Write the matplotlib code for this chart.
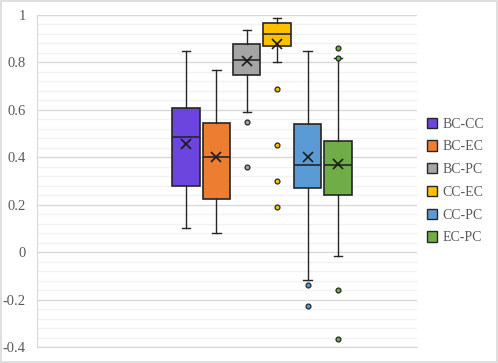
import matplotlib.pyplot as plt
from matplotlib.patches import Rectangle
import numpy as np

labels = ['BC-CC', 'BC-EC', 'BC-PC', 'CC-EC', 'CC-PC', 'EC-PC']
colors = ['#6B45DD', '#ED7D31', '#A5A5A5', '#FFC000', '#5B9BD5', '#70AD47']
whislo = [0.10, 0.081, 0.589, 0.80, -0.117, -0.018]
q1 = [0.28, 0.224, 0.749, 0.869, 0.27, 0.242]
med = [0.486, 0.402, 0.809, 0.919, 0.366, 0.366]
mean = [0.457, 0.40, 0.805, 0.879, 0.401, 0.371]
q3 = [0.607, 0.544, 0.879, 0.968, 0.54, 0.47]
whishi = [0.85, 0.768, 0.938, 0.989, 0.85, 0.819]
fliers = [[], [], [0.55, 0.361], [0.69, 0.451, 0.301, 0.19],
          [-0.138, -0.228], [0.86, 0.82, -0.158, -0.367]]

plt.rcParams['font.family'] = ['Liberation Serif', 'DejaVu Serif']
fig = plt.figure(figsize=(4.98, 3.63), dpi=100)
fig.patches.append(Rectangle((0.002, 0.003), 0.996, 0.994, transform=fig.transFigure,
                             fill=False, edgecolor='#D9D9D9', lw=1.2))
ax = fig.add_axes([37/498, 1-347/363, (417-37)/498, (347-15)/363])

stats = []
for i in range(len(labels)):
    stats.append(dict(label=labels[i], whislo=whislo[i], q1=q1[i], med=med[i],
                      mean=mean[i], q3=q3[i], whishi=whishi[i], fliers=fliers[i]))

for i, s in enumerate(stats):
    c = colors[i]
    ax.bxp([s], positions=[i], widths=0.9, patch_artist=True, showmeans=True,
           boxprops=dict(facecolor=c, edgecolor='#262626', lw=1.2),
           medianprops=dict(color='#262626', lw=1.2),
           whiskerprops=dict(color='#262626', lw=1),
           capprops=dict(color='#262626', lw=1),
           capwidths=0.28,
           meanprops=dict(marker='x', markeredgecolor='#1a1a1a', markersize=7, mew=1.2),
           flierprops=dict(marker='o', markerfacecolor=c, markeredgecolor='#262626',
                           markersize=3.5, mew=0.9))

ax.set_xlim(-4.9, 7.6)
ax.set_ylim(-0.4, 1.0)
ax.set_yticks(np.arange(-0.4, 1.01, 0.2))
ax.set_yticklabels(['-0.4', '-0.2', '0', '0.2', '0.4', '0.6', '0.8', '1'])
ax.set_yticks(np.arange(-0.4, 1.0, 0.04), minor=True)
ax.grid(axis='y', which='major', color='#D9D9D9', lw=1)
ax.grid(axis='y', which='minor', color='#F2F2F2', lw=1)
ax.set_axisbelow(True)
ax.set_xticks([])
ax.tick_params(axis='y', which='both', length=0, labelsize=10.5, labelcolor='#595959', pad=8)
for sp in ['top', 'right']:
    ax.spines[sp].set_visible(False)
ax.spines['left'].set_color('#D9D9D9')
ax.spines['bottom'].set_color('#D9D9D9')

handles = [Rectangle((0, 0), 1, 1, facecolor=colors[i], edgecolor='#262626', lw=1)
           for i in range(len(labels))]
leg = fig.legend(handles, labels, loc='center left', bbox_to_anchor=(427/498, 1-181/363),
                 frameon=False, borderpad=0, borderaxespad=0, handlelength=0.75,
                 handleheight=0.75, handletextpad=0.35, labelspacing=0.7, fontsize=10)
for t in leg.get_texts():
    t.set_color('#595959')

plt.savefig('out.png')
